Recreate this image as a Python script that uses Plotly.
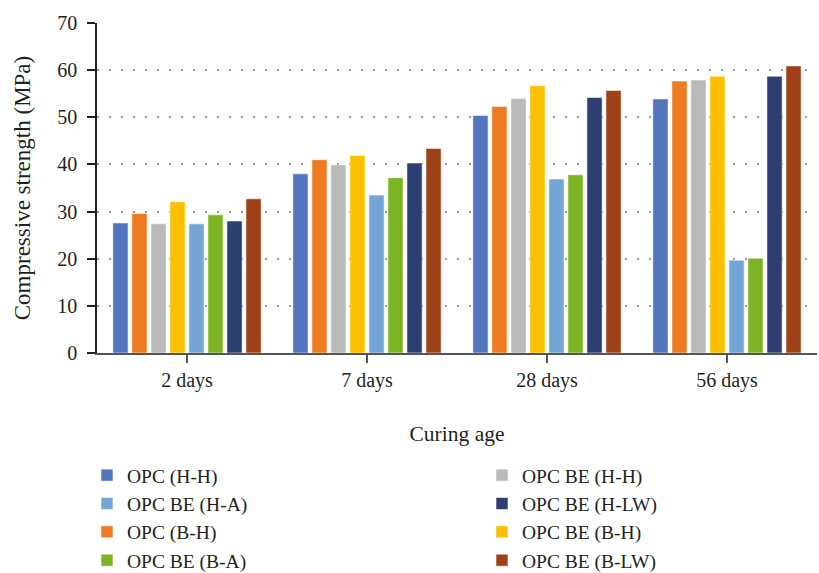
import plotly.graph_objects as go

categories = ["2 days", "7 days", "28 days", "56 days"]

opc_hh = [27.6, 38.0, 50.4, 53.9]
opc_bh = [29.6, 41.0, 52.3, 57.7]
opc_be_hh = [27.4, 39.9, 54.0, 57.9]
opc_be_bh = [32.1, 41.9, 56.7, 58.7]
opc_be_ha = [27.4, 33.5, 36.9, 19.7]
opc_be_ba = [29.3, 37.2, 37.8, 20.1]
opc_be_hlw = [28.0, 40.3, 54.2, 58.7]
opc_be_blw = [32.7, 43.4, 55.7, 60.9]

# (name, values, colour, legend, rank within legend)
series = [
    ("OPC (H-H)", opc_hh, "#5275BE", "legend", 1),
    ("OPC (B-H)", opc_bh, "#EE7A22", "legend", 3),
    ("OPC BE (H-H)", opc_be_hh, "#B9B9B9", "legend2", 1),
    ("OPC BE (B-H)", opc_be_bh, "#FBC000", "legend2", 3),
    ("OPC BE (H-A)", opc_be_ha, "#73A6D7", "legend", 2),
    ("OPC BE (B-A)", opc_be_ba, "#7DB424", "legend", 4),
    ("OPC BE (H-LW)", opc_be_hlw, "#2D3E73", "legend2", 2),
    ("OPC BE (B-LW)", opc_be_blw, "#9E4117", "legend2", 4),
]

FONT = "Liberation Serif"
TXT = "#231F20"

fig = go.Figure()
for name, vals, color, leg, rank in series:
    fig.add_trace(go.Bar(
        x=categories, y=vals, name=name, legend=leg, legendrank=rank,
        marker=dict(color=color, line=dict(color="rgba(255,255,255,0.55)", width=1)),
    ))

legend_common = dict(
    orientation="v", xanchor="left", yanchor="top", y=-0.312,
    font=dict(family=FONT, size=19.5, color=TXT),
    traceorder="normal", itemclick=False, itemdoubleclick=False,
    bgcolor="rgba(0,0,0,0)", borderwidth=0,
)

fig.update_layout(
    width=819, height=573,
    margin=dict(l=97, r=2, t=23, b=220, autoexpand=False),
    paper_bgcolor="white", plot_bgcolor="white",
    font=dict(family=FONT, size=20, color=TXT),
    barmode="group", bargap=0.155, bargroupgap=0.2,
    showlegend=True,
    legend=dict(x=-0.0139, **legend_common),
    legend2=dict(x=0.5347, **legend_common),
)

fig.update_xaxes(
    title=dict(text="Curing age", standoff=35, font=dict(size=21.5)),
    showline=True, linecolor="#555555", linewidth=2,
    ticks="outside", ticklen=8, tickcolor="#555555", tickwidth=1.5,
    tickfont=dict(size=20), showgrid=False, automargin=False,
)
fig.update_yaxes(
    title=dict(text="Compressive strength (MPa)", standoff=20, font=dict(size=23)),
    range=[0, 70], dtick=10,
    showline=True, linecolor=TXT, linewidth=1.5,
    ticks="outside", ticklen=8, tickcolor=TXT, tickwidth=1.5,
    tickfont=dict(size=20), ticklabelstandoff=6,
    showgrid=True, gridcolor="#999999", gridwidth=2, griddash="2px,10px",
    zeroline=False, automargin=False,
)

fig.write_html(
    "out.html",
    config={"displayModeBar": False},
    post_script="document.body.style.margin='0px';",
)
